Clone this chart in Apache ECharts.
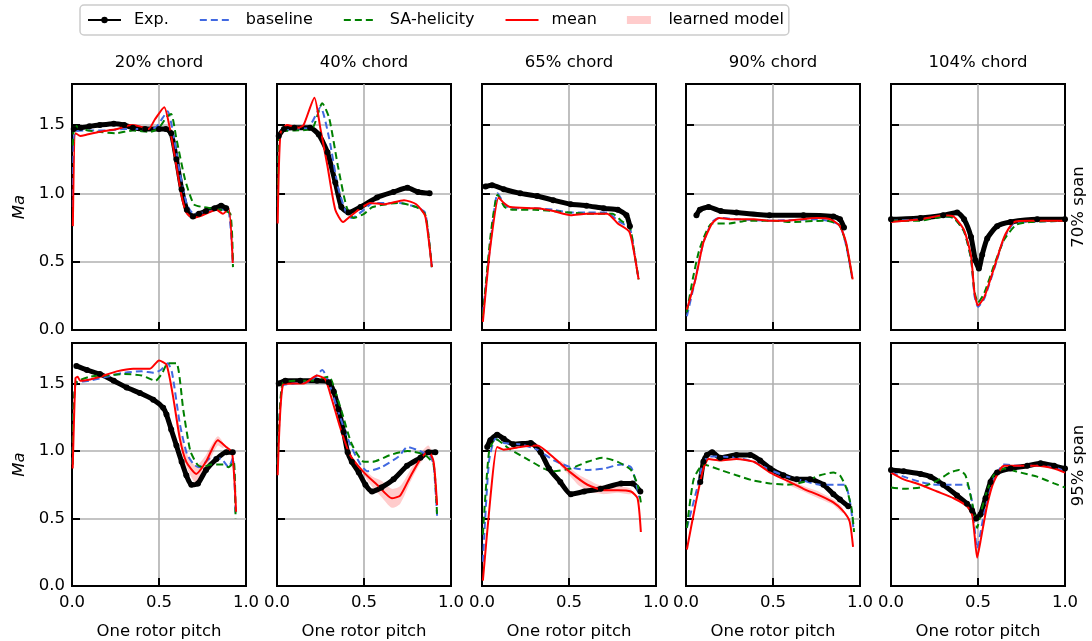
<!DOCTYPE html>
<html>
<head>
<meta charset="utf-8">
<script src="https://cdn.jsdelivr.net/npm/echarts@6/dist/echarts.min.js"></script>
<style>
  html, body { margin: 0; padding: 0; background: #fff; }
  #chart { width: 1092px; height: 641px; }
</style>
</head>
<body>
<div id="chart"></div>
<script>
// Column / row labels
const chords = ['20% chord', '40% chord', '65% chord', '90% chord', '104% chord'];
const spans = ['70% span', '95% span'];
const xTickLabels = ['0.0', '0.5', '1.0'];
const yTickLabels = ['0.0', '0.5', '1.0', '1.5'];

// ---- 70% span ----
const exp70_20 = [[0.01,1.47],[0.05,1.48],[0.1,1.49],[0.16,1.50],[0.24,1.51],[0.3,1.50],[0.35,1.48],[0.42,1.47],[0.5,1.47],[0.54,1.47],[0.57,1.44],[0.6,1.25],[0.63,1.03],[0.66,0.88],[0.695,0.83],[0.73,0.85],[0.77,0.87],[0.82,0.89],[0.857,0.91],[0.886,0.89]];
const base70_20 = [[0.005,0.9],[0.015,1.45],[0.1,1.46],[0.2,1.46],[0.3,1.47],[0.4,1.47],[0.48,1.48],[0.52,1.55],[0.55,1.60],[0.58,1.45],[0.62,1.15],[0.66,0.92],[0.7,0.85],[0.75,0.86],[0.85,0.88],[0.9,0.87],[0.925,0.47]];
const sa70_20 = [[0.005,1.35],[0.015,1.50],[0.05,1.47],[0.15,1.45],[0.25,1.44],[0.35,1.46],[0.45,1.45],[0.5,1.48],[0.545,1.56],[0.57,1.58],[0.6,1.40],[0.65,1.10],[0.7,0.92],[0.75,0.90],[0.85,0.88],[0.91,0.85],[0.925,0.46]];
const mean70_20 = [[0.005,0.76],[0.02,1.44],[0.048,1.42],[0.086,1.43],[0.16,1.45],[0.26,1.47],[0.34,1.50],[0.39,1.49],[0.44,1.47],[0.476,1.54],[0.53,1.63],[0.56,1.49],[0.6,1.20],[0.63,0.98],[0.657,0.86],[0.695,0.82],[0.75,0.84],[0.83,0.88],[0.867,0.85],[0.9,0.89],[0.924,0.49]];
const band70_20 = [];

const exp70_40 = [[0.01,1.42],[0.04,1.47],[0.1,1.48],[0.19,1.48],[0.24,1.43],[0.29,1.30],[0.335,1.08],[0.37,0.90],[0.41,0.86],[0.48,0.90],[0.575,0.97],[0.67,1.01],[0.75,1.04],[0.81,1.01],[0.877,1.0]];
const base70_40 = [[0.005,0.9],[0.015,1.44],[0.1,1.47],[0.18,1.48],[0.25,1.63],[0.3,1.40],[0.35,1.05],[0.4,0.85],[0.43,0.82],[0.5,0.88],[0.55,0.93],[0.7,0.93],[0.8,0.90],[0.85,0.86],[0.87,0.7],[0.89,0.46]];
const sa70_40 = [[0.005,0.9],[0.015,1.45],[0.1,1.46],[0.2,1.47],[0.26,1.66],[0.3,1.55],[0.35,1.20],[0.4,0.90],[0.44,0.82],[0.5,0.85],[0.55,0.90],[0.7,0.93],[0.8,0.90],[0.85,0.85],[0.87,0.7],[0.89,0.46]];
const mean70_40 = [[0.004,0.78],[0.02,1.44],[0.057,1.50],[0.125,1.48],[0.153,1.50],[0.215,1.70],[0.25,1.47],[0.29,1.20],[0.335,0.88],[0.38,0.79],[0.42,0.83],[0.48,0.89],[0.536,0.93],[0.613,0.92],[0.73,0.95],[0.8,0.92],[0.85,0.84],[0.87,0.68],[0.89,0.46]];
const band70_40 = [];

const exp70_65 = [[0.02,1.05],[0.058,1.06],[0.125,1.03],[0.22,1.0],[0.317,0.98],[0.41,0.95],[0.51,0.92],[0.6,0.91],[0.7,0.89],[0.78,0.88],[0.83,0.84],[0.85,0.76]];
const base70_65 = [[0.005,0.12],[0.05,0.65],[0.09,1.0],[0.13,0.92],[0.17,0.89],[0.3,0.89],[0.41,0.88],[0.5,0.86],[0.6,0.86],[0.72,0.86],[0.78,0.8],[0.85,0.74],[0.875,0.57],[0.9,0.37]];
const sa70_65 = [[0.005,0.1],[0.05,0.7],[0.09,0.99],[0.13,0.9],[0.18,0.88],[0.3,0.88],[0.5,0.86],[0.6,0.85],[0.75,0.85],[0.8,0.8],[0.85,0.75],[0.875,0.57],[0.9,0.37]];
const mean70_65 = [[0.005,0.06],[0.048,0.61],[0.096,0.97],[0.125,0.93],[0.163,0.90],[0.317,0.89],[0.41,0.87],[0.51,0.84],[0.6,0.85],[0.72,0.85],[0.78,0.78],[0.846,0.72],[0.875,0.56],[0.9,0.37]];
const band70_65 = [];

const exp70_90 = [[0.06,0.84],[0.08,0.88],[0.13,0.90],[0.2,0.87],[0.29,0.86],[0.48,0.84],[0.675,0.84],[0.847,0.83],[0.885,0.81],[0.908,0.75]];
const base70_90 = [[0.005,0.1],[0.05,0.35],[0.1,0.64],[0.15,0.79],[0.19,0.82],[0.3,0.81],[0.5,0.80],[0.75,0.81],[0.88,0.77],[0.92,0.62],[0.955,0.38]];
const sa70_90 = [[0.005,0.13],[0.04,0.38],[0.08,0.6],[0.15,0.78],[0.25,0.78],[0.35,0.8],[0.5,0.80],[0.6,0.79],[0.8,0.8],[0.88,0.77],[0.92,0.63],[0.955,0.38]];
const mean70_90 = [[0.005,0.15],[0.054,0.37],[0.1,0.64],[0.15,0.78],[0.19,0.82],[0.254,0.81],[0.39,0.81],[0.48,0.80],[0.58,0.80],[0.75,0.82],[0.83,0.81],[0.885,0.76],[0.92,0.64],[0.958,0.37]];
const band70_90 = [];

const exp70_104 = [[0.0,0.81],[0.17,0.82],[0.3,0.84],[0.38,0.86],[0.42,0.81],[0.46,0.68],[0.485,0.51],[0.505,0.45],[0.524,0.55],[0.553,0.67],[0.61,0.76],[0.687,0.79],[0.84,0.81],[1.0,0.81]];
const base70_104 = [[0,0.8],[0.17,0.81],[0.3,0.83],[0.36,0.82],[0.42,0.72],[0.46,0.52],[0.48,0.25],[0.5,0.17],[0.536,0.23],[0.594,0.45],[0.65,0.67],[0.706,0.78],[0.8,0.79],[1.0,0.80]];
const sa70_104 = [[0,0.80],[0.17,0.80],[0.3,0.83],[0.36,0.82],[0.42,0.72],[0.46,0.52],[0.48,0.28],[0.5,0.2],[0.536,0.27],[0.594,0.48],[0.65,0.66],[0.72,0.77],[0.8,0.79],[1.0,0.80]];
const mean70_104 = [[0,0.79],[0.17,0.81],[0.3,0.84],[0.36,0.83],[0.42,0.73],[0.46,0.54],[0.48,0.27],[0.5,0.18],[0.536,0.24],[0.594,0.46],[0.65,0.68],[0.706,0.79],[0.8,0.80],[1.0,0.80]];
const band70_104 = [];

// ---- 95% span ----
const exp95_20 = [[0.025,1.63],[0.086,1.60],[0.16,1.57],[0.24,1.52],[0.314,1.47],[0.39,1.43],[0.467,1.38],[0.524,1.32],[0.543,1.27],[0.57,1.16],[0.6,1.04],[0.63,0.92],[0.657,0.82],[0.686,0.75],[0.724,0.76],[0.77,0.86],[0.83,0.94],[0.886,0.99],[0.924,0.99]];
const base95_20 = [[0.004,0.9],[0.02,1.5],[0.1,1.52],[0.2,1.55],[0.3,1.58],[0.4,1.59],[0.47,1.58],[0.51,1.6],[0.55,1.65],[0.575,1.58],[0.62,1.2],[0.66,0.98],[0.7,0.9],[0.73,0.88],[0.8,0.95],[0.86,0.94],[0.9,0.88],[0.925,0.95],[0.94,0.52]];
const sa95_20 = [[0.004,0.9],[0.02,1.5],[0.1,1.55],[0.2,1.56],[0.3,1.57],[0.4,1.56],[0.48,1.52],[0.52,1.58],[0.55,1.65],[0.6,1.65],[0.64,1.3],[0.68,1.0],[0.72,0.9],[0.75,0.88],[0.8,0.9],[0.87,0.9],[0.9,0.88],[0.93,0.92],[0.94,0.5]];
const mean95_20 = [[0.004,0.87],[0.02,1.54],[0.032,1.55],[0.048,1.52],[0.105,1.53],[0.16,1.55],[0.257,1.59],[0.352,1.61],[0.448,1.61],[0.5,1.67],[0.543,1.64],[0.58,1.41],[0.62,1.09],[0.657,0.92],[0.714,0.83],[0.77,0.92],[0.838,1.08],[0.886,1.03],[0.92,0.99],[0.943,0.55]];
const band95_20 = [[0.6,1.22,1.28],[0.64,0.95,1.05],[0.68,0.82,0.93],[0.714,0.76,0.89],[0.74,0.80,0.92],[0.77,0.86,0.97],[0.8,0.95,1.04],[0.838,1.04,1.11],[0.87,1.02,1.06]];

const exp95_40 = [[0.01,1.50],[0.048,1.52],[0.134,1.52],[0.23,1.52],[0.297,1.51],[0.326,1.44],[0.354,1.31],[0.383,1.14],[0.406,0.99],[0.43,0.92],[0.47,0.84],[0.508,0.75],[0.546,0.70],[0.6,0.73],[0.67,0.79],[0.747,0.89],[0.824,0.95],[0.87,0.99],[0.91,0.99]];
const base95_40 = [[0.004,0.9],[0.03,1.48],[0.1,1.5],[0.2,1.52],[0.26,1.6],[0.3,1.5],[0.35,1.3],[0.42,1.05],[0.48,0.9],[0.52,0.85],[0.6,0.88],[0.7,0.96],[0.75,1.03],[0.82,1.0],[0.88,0.96],[0.9,0.9],[0.92,0.52]];
const sa95_40 = [[0.004,0.9],[0.03,1.5],[0.1,1.52],[0.2,1.52],[0.3,1.55],[0.32,1.5],[0.37,1.3],[0.43,1.05],[0.5,0.92],[0.55,0.92],[0.65,0.97],[0.75,1.0],[0.85,0.97],[0.9,0.9],[0.92,0.52]];
const mean95_40 = [[0.004,0.82],[0.034,1.49],[0.096,1.50],[0.153,1.50],[0.23,1.56],[0.278,1.53],[0.316,1.38],[0.364,1.17],[0.42,0.97],[0.5,0.84],[0.575,0.75],[0.66,0.65],[0.708,0.67],[0.766,0.81],[0.824,0.94],[0.87,1.0],[0.9,0.92],[0.92,0.6]];
const band95_40 = [[0.5,0.82,0.86],[0.55,0.73,0.81],[0.6,0.66,0.78],[0.66,0.58,0.72],[0.708,0.61,0.74],[0.766,0.77,0.86],[0.824,0.91,0.98],[0.87,0.97,1.04],[0.9,0.89,0.95]];

const exp95_65 = [[0.03,1.03],[0.048,1.08],[0.087,1.12],[0.125,1.09],[0.18,1.05],[0.28,1.06],[0.337,0.99],[0.385,0.87],[0.45,0.77],[0.51,0.68],[0.587,0.70],[0.683,0.72],[0.8,0.76],[0.865,0.76],[0.91,0.70]];
const base95_65 = [[0.005,0.18],[0.04,0.92],[0.077,1.09],[0.125,1.06],[0.22,1.05],[0.317,1.01],[0.413,0.93],[0.51,0.88],[0.6,0.86],[0.7,0.87],[0.8,0.90],[0.856,0.88],[0.885,0.77],[0.9,0.67],[0.91,0.65]];
const sa95_65 = [[0.005,0.38],[0.04,0.99],[0.077,1.09],[0.163,1.01],[0.26,0.94],[0.356,0.87],[0.413,0.85],[0.51,0.87],[0.606,0.92],[0.692,0.95],[0.78,0.92],[0.856,0.86],[0.894,0.75],[0.913,0.62]];
const mean95_65 = [[0.005,0.04],[0.048,0.65],[0.087,1.03],[0.125,1.01],[0.22,1.03],[0.317,1.04],[0.413,0.95],[0.51,0.84],[0.606,0.75],[0.7,0.71],[0.78,0.71],[0.856,0.70],[0.894,0.65],[0.913,0.40]];
const band95_65 = [[0.45,0.89,0.93],[0.51,0.81,0.87],[0.56,0.74,0.82],[0.606,0.71,0.79],[0.65,0.69,0.76],[0.7,0.68,0.74],[0.78,0.69,0.74],[0.856,0.68,0.72]];

const exp95_90 = [[0.082,0.77],[0.1,0.92],[0.12,0.97],[0.15,0.99],[0.197,0.95],[0.29,0.97],[0.37,0.97],[0.426,0.93],[0.484,0.87],[0.56,0.82],[0.637,0.79],[0.713,0.79],[0.79,0.75],[0.847,0.68],[0.885,0.64],[0.933,0.59]];
const base95_90 = [[0.005,0.43],[0.063,0.72],[0.1,0.92],[0.14,0.96],[0.29,0.95],[0.39,0.92],[0.484,0.86],[0.58,0.81],[0.675,0.78],[0.77,0.75],[0.866,0.75],[0.914,0.75],[0.943,0.62],[0.962,0.43]];
const sa95_90 = [[0.005,0.43],[0.044,0.79],[0.1,0.9],[0.197,0.86],[0.29,0.82],[0.39,0.78],[0.484,0.76],[0.58,0.75],[0.675,0.77],[0.77,0.82],[0.847,0.84],[0.885,0.82],[0.923,0.72],[0.952,0.57],[0.966,0.4]];
const mean95_90 = [[0.005,0.27],[0.054,0.60],[0.1,0.87],[0.13,0.94],[0.197,0.93],[0.29,0.94],[0.39,0.92],[0.484,0.84],[0.58,0.78],[0.675,0.72],[0.77,0.67],[0.847,0.62],[0.9,0.56],[0.94,0.48],[0.96,0.29]];
const band95_90 = [[0.58,0.76,0.8],[0.675,0.7,0.74],[0.77,0.645,0.695],[0.847,0.6,0.64],[0.9,0.54,0.58]];

const exp95_104 = [[0,0.86],[0.073,0.85],[0.17,0.83],[0.227,0.81],[0.3,0.75],[0.38,0.67],[0.437,0.61],[0.466,0.56],[0.49,0.50],[0.514,0.53],[0.543,0.65],[0.572,0.77],[0.61,0.84],[0.687,0.87],[0.783,0.89],[0.86,0.91],[0.937,0.89],[1.0,0.87]];
const base95_104 = [[0,0.84],[0.073,0.81],[0.17,0.77],[0.265,0.75],[0.36,0.75],[0.437,0.75],[0.466,0.62],[0.495,0.28],[0.534,0.53],[0.59,0.79],[0.65,0.90],[0.745,0.89],[0.84,0.89],[0.937,0.88],[1.0,0.85]];
const sa95_104 = [[0,0.73],[0.073,0.72],[0.17,0.73],[0.265,0.78],[0.34,0.84],[0.39,0.86],[0.428,0.82],[0.457,0.67],[0.48,0.53],[0.495,0.43],[0.514,0.53],[0.543,0.67],[0.59,0.82],[0.65,0.87],[0.745,0.84],[0.84,0.81],[0.937,0.76],[1.0,0.73]];
const mean95_104 = [[0,0.84],[0.073,0.79],[0.17,0.75],[0.265,0.70],[0.36,0.65],[0.437,0.59],[0.466,0.53],[0.48,0.38],[0.495,0.21],[0.514,0.33],[0.553,0.60],[0.59,0.77],[0.65,0.89],[0.745,0.89],[0.84,0.89],[0.937,0.87],[1.0,0.84]];
const band95_104 = [];

const panels = [
  [
    { exp: exp70_20, base: base70_20, sa: sa70_20, mean: mean70_20, band: band70_20 },
    { exp: exp70_40, base: base70_40, sa: sa70_40, mean: mean70_40, band: band70_40 },
    { exp: exp70_65, base: base70_65, sa: sa70_65, mean: mean70_65, band: band70_65 },
    { exp: exp70_90, base: base70_90, sa: sa70_90, mean: mean70_90, band: band70_90 },
    { exp: exp70_104, base: base70_104, sa: sa70_104, mean: mean70_104, band: band70_104 }
  ],
  [
    { exp: exp95_20, base: base95_20, sa: sa95_20, mean: mean95_20, band: band95_20 },
    { exp: exp95_40, base: base95_40, sa: sa95_40, mean: mean95_40, band: band95_40 },
    { exp: exp95_65, base: base95_65, sa: sa95_65, mean: mean95_65, band: band95_65 },
    { exp: exp95_90, base: base95_90, sa: sa95_90, mean: mean95_90, band: band95_90 },
    { exp: exp95_104, base: base95_104, sa: sa95_104, mean: mean95_104, band: band95_104 }
  ]
];

// Layout of the 2 x 5 panel grid (pixels)
const FONT = 'DejaVu Sans';
const FS = 16.5;
const colLeft = [72, 277, 482, 686, 891];
const colWidth = 174;
const rowTop = [84, 343];
const rowHeight = [246, 245];

const COL = {
  exp: '#000000',
  base: '#4169e1',
  sa: '#008000',
  mean: '#ff0000',
  band: 'rgba(255,0,0,0.2)'
};
const NO_MARKER = { color: 'rgba(0,0,0,0)', borderColor: 'rgba(0,0,0,0)', borderWidth: 0 };

const grids = [], xAxes = [], yAxes = [], series = [], graphics = [];

function fmtTick(v) {
  const k = v * 2;
  return Math.abs(k - Math.round(k)) < 1e-6 ? v.toFixed(1) : '';
}

for (let r = 0; r < 2; r++) {
  for (let c = 0; c < 5; c++) {
    const k = r * 5 + c;
    const p = panels[r][c];
    grids.push({
      left: colLeft[c], top: rowTop[r], width: colWidth, height: rowHeight[r],
      show: true, borderColor: '#000', borderWidth: 2, backgroundColor: 'transparent'
    });
    xAxes.push({
      gridIndex: k, type: 'value', min: 0, max: 1, interval: 0.5,
      axisLine: { show: true, lineStyle: { color: '#000', width: 2 } },
      axisTick: { show: true, inside: true, length: 8, lineStyle: { color: '#000', width: 2 } },
      axisLabel: { show: r === 1, formatter: fmtTick, fontFamily: FONT, fontSize: FS, color: '#000', margin: 8 },
      splitLine: { show: true, showMinLine: false, showMaxLine: false, lineStyle: { color: '#b0b0b0', width: 1.6 } },
      name: r === 1 ? 'One rotor pitch' : '',
      nameLocation: 'middle', nameGap: 37,
      nameTextStyle: { fontFamily: FONT, fontSize: FS, color: '#000' }
    });
    yAxes.push({
      gridIndex: k, type: 'value', min: 0, max: 1.8, interval: 0.5,
      axisLine: { show: true, lineStyle: { color: '#000', width: 2 } },
      axisTick: { show: true, inside: true, length: 8, lineStyle: { color: '#000', width: 2 } },
      axisLabel: { show: c === 0, formatter: fmtTick, fontFamily: FONT, fontSize: FS, color: '#000', margin: 7, showMaxLabel: false },
      splitLine: { show: true, showMinLine: false, showMaxLine: false, lineStyle: { color: '#b0b0b0', width: 1.6 } },
      name: c === 0 ? 'Ma' : '',
      nameLocation: 'middle', nameGap: 44, nameRotate: 90,
      nameTextStyle: { fontFamily: FONT, fontSize: FS, fontStyle: 'italic', color: '#000' }
    });

    const common = { xAxisIndex: k, yAxisIndex: k, animation: false, silent: true };
    series.push(Object.assign({
      name: 'Exp.', type: 'line', data: p.exp, smooth: 0.2,
      symbol: 'circle', symbolSize: 6, showSymbol: true,
      itemStyle: { color: COL.exp },
      lineStyle: { color: COL.exp, width: 5 }
    }, common));
    series.push(Object.assign({
      name: 'baseline', type: 'line', data: p.base, smooth: 0.2, symbol: 'none',
      itemStyle: { color: COL.base },
      lineStyle: { color: COL.base, width: 2, type: [7, 4] }
    }, common));
    series.push(Object.assign({
      name: 'SA-helicity', type: 'line', data: p.sa, smooth: 0.2, symbol: 'none',
      itemStyle: { color: COL.sa },
      lineStyle: { color: COL.sa, width: 2, type: [7, 4] }
    }, common));
    if (p.band.length) {
      const band = p.band;
      series.push(Object.assign({
        name: 'learned model', type: 'custom', data: band,
        encode: { x: 0, y: [1, 2] },
        itemStyle: { color: COL.band },
        renderItem: function (params, api) {
          if (params.dataIndex !== 0) return null;
          const upper = band.map(d => api.coord([d[0], d[2]]));
          const lower = band.map(d => api.coord([d[0], d[1]])).reverse();
          return {
            type: 'polygon',
            shape: { points: upper.concat(lower), smooth: 0.25 },
            style: { fill: COL.band }
          };
        }
      }, common));
    }
    series.push(Object.assign({
      name: 'mean', type: 'line', data: p.mean, smooth: 0.2, symbol: 'none',
      itemStyle: { color: COL.mean },
      lineStyle: { color: COL.mean, width: 2 }
    }, common));

    if (r === 0) {
      graphics.push({
        type: 'text', x: colLeft[c] + colWidth / 2, y: 63,
        style: { text: chords[c], font: FS + 'px "' + FONT + '"', fill: '#000', textAlign: 'center', textVerticalAlign: 'middle' }
      });
    }
  }
  graphics.push({
    type: 'text', x: 1079, y: rowTop[r] + rowHeight[r] / 2, rotation: Math.PI / 2,
    style: { text: spans[r], font: FS + 'px "' + FONT + '"', fill: '#000', textAlign: 'center', textVerticalAlign: 'middle' }
  });
}

const chart = echarts.init(document.getElementById('chart'), null, { renderer: 'canvas' });
chart.setOption({
  animation: false,
  backgroundColor: '#fff',
  textStyle: { fontFamily: FONT },
  grid: grids,
  xAxis: xAxes,
  yAxis: yAxes,
  legend: {
    left: 80, top: 5,
    padding: [7, 5, 7, 7],
    itemWidth: 33, itemHeight: 8, itemGap: 30,
    backgroundColor: '#fff',
    borderColor: '#cccccc', borderWidth: 1.5, borderRadius: 4,
    textStyle: { fontFamily: FONT, fontSize: 16, color: '#000', padding: [0, 0, 0, 8] },
    selectedMode: false,
    data: [
      { name: 'Exp.' },
      { name: 'baseline', itemStyle: NO_MARKER },
      { name: 'SA-helicity', itemStyle: NO_MARKER },
      { name: 'mean', itemStyle: NO_MARKER },
      { name: 'learned model', icon: 'path://M0,0H33V11H0Z', itemStyle: { color: COL.band } }
    ]
  },
  graphic: graphics,
  series: series
});
</script>
</body>
</html>
